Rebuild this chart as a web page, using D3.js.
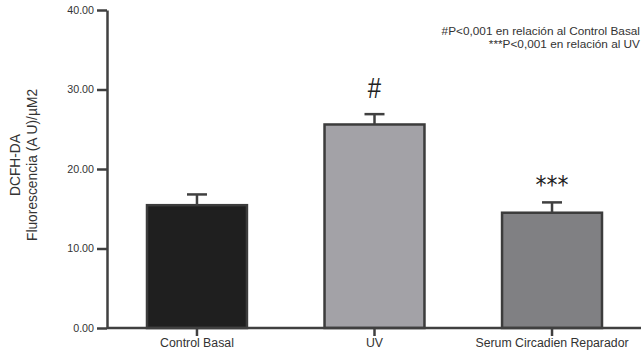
<!DOCTYPE html>
<html>
<head>
<meta charset="utf-8">
<script src="https://cdn.jsdelivr.net/npm/d3@7"></script>
<style>
  body { margin: 0; background: #fff; }
  svg { display: block; font-family: "Liberation Sans", Arial, sans-serif; }
  .axis path, .axis line { stroke: #404040; stroke-width: 2.5; }
  .axis text { fill: #333; }
</style>
</head>
<body>
<div id="chart-area"></div>
<script>

// Data
var categories = ["Control Basal", "UV", "Serum Circadien Reparador"];
var means = [15.45, 25.6, 14.5];
var errors = [1.35, 1.3, 1.3];
var marks = ["", "#", "***"];
var fills = ["#1f1f1f", "#a3a2a7", "#808083"];
var yTicks = [0, 10, 20, 30, 40];
var notes = ["#P<0,001 en relación al Control Basal", "***P<0,001 en relación al UV"];

var width = 641, height = 355;

var svg = d3.select("#chart-area").append("svg")
    .attr("width", width)
    .attr("height", height);

// Scales
var x = d3.scaleBand()
    .domain(categories)
    .range([147, 602])
    .paddingInner(0.437)
    .paddingOuter(0);

var y = d3.scaleLinear()
    .domain([0, 40])
    .range([328, 10]);

// Bars
svg.selectAll("rect.bar")
    .data(means)
    .enter().append("rect")
    .attr("class", "bar")
    .attr("x", function(d, i) { return x(categories[i]); })
    .attr("y", function(d) { return y(d); })
    .attr("width", x.bandwidth())
    .attr("height", function(d) { return y(0) - y(d); })
    .attr("fill", function(d, i) { return fills[i]; })
    .attr("stroke", "#3c3c3c")
    .attr("stroke-width", 2.5);

// Error bars (upper only)
var eb = svg.selectAll("g.err")
    .data(means)
    .enter().append("g")
    .attr("class", "err")
    .attr("stroke", "#404040")
    .attr("stroke-width", 2.5);

eb.append("line")
    .attr("x1", function(d, i) { return x(categories[i]) + x.bandwidth() / 2; })
    .attr("x2", function(d, i) { return x(categories[i]) + x.bandwidth() / 2; })
    .attr("y1", function(d) { return y(d); })
    .attr("y2", function(d, i) { return y(d + errors[i]); });

eb.append("line")
    .attr("x1", function(d, i) { return x(categories[i]) + x.bandwidth() / 2 - 10; })
    .attr("x2", function(d, i) { return x(categories[i]) + x.bandwidth() / 2 + 10; })
    .attr("y1", function(d, i) { return y(d + errors[i]); })
    .attr("y2", function(d, i) { return y(d + errors[i]); });

// Significance marks (slightly tall glyphs like the original)
svg.selectAll("text.mark")
    .data(marks)
    .enter().append("text")
    .attr("class", "mark")
    .attr("transform", function(d, i) {
        var cx = x(categories[i]) + x.bandwidth() / 2;
        var top = y(means[i] + errors[i]);
        var base = d == "#" ? top - 16 : top - 9;
        return "translate(" + cx + "," + base + ") scale(1," + (d == "#" ? 1.25 : 1.1) + ")";
    })
    .attr("text-anchor", "middle")
    .attr("font-family", function(d) { return d == "#" ? null : "'DejaVu Sans', sans-serif"; })
    .attr("font-size", function(d) { return d == "#" ? 24 : 22; })
    .attr("fill", "#222")
    .text(function(d) { return d; });

// Axes
var yAxis = d3.axisLeft(y)
    .tickValues(yTicks)
    .tickFormat(d3.format(".2f"))
    .tickSize(10)
    .tickSizeOuter(0)
    .tickPadding(3);

svg.append("g")
    .attr("class", "axis y-axis")
    .attr("transform", "translate(107,0)")
    .call(yAxis)
    .selectAll("text")
    .attr("font-size", 10.7);

var xAxis = d3.axisBottom(x)
    .tickSize(8)
    .tickSizeOuter(0)
    .tickPadding(2);

var gx = svg.append("g")
    .attr("class", "axis x-axis")
    .attr("transform", "translate(0," + y(0) + ")")
    .call(xAxis);
gx.select(".domain").attr("d", "M107,0H641");
gx.selectAll("text").attr("font-size", 12.3);

// Y axis title
var yt = svg.append("text")
    .attr("transform", "translate(25,165) rotate(-90)")
    .attr("text-anchor", "middle")
    .attr("font-size", 13.8)
    .attr("fill", "#333");
yt.append("tspan").attr("x", 0).attr("dy", "-0.35em").text("DCFH-DA");
yt.append("tspan").attr("x", 0).attr("dy", "1.25em").text("Fluorescencia (A U)/µM2");

// Notes
svg.selectAll("text.note")
    .data(notes)
    .enter().append("text")
    .attr("class", "note")
    .attr("x", 640)
    .attr("y", function(d, i) { return 35 + i * 12.5; })
    .attr("text-anchor", "end")
    .attr("font-size", 11.8)
    .attr("fill", "#333")
    .text(function(d) { return d; });

</script>
</body>
</html>
